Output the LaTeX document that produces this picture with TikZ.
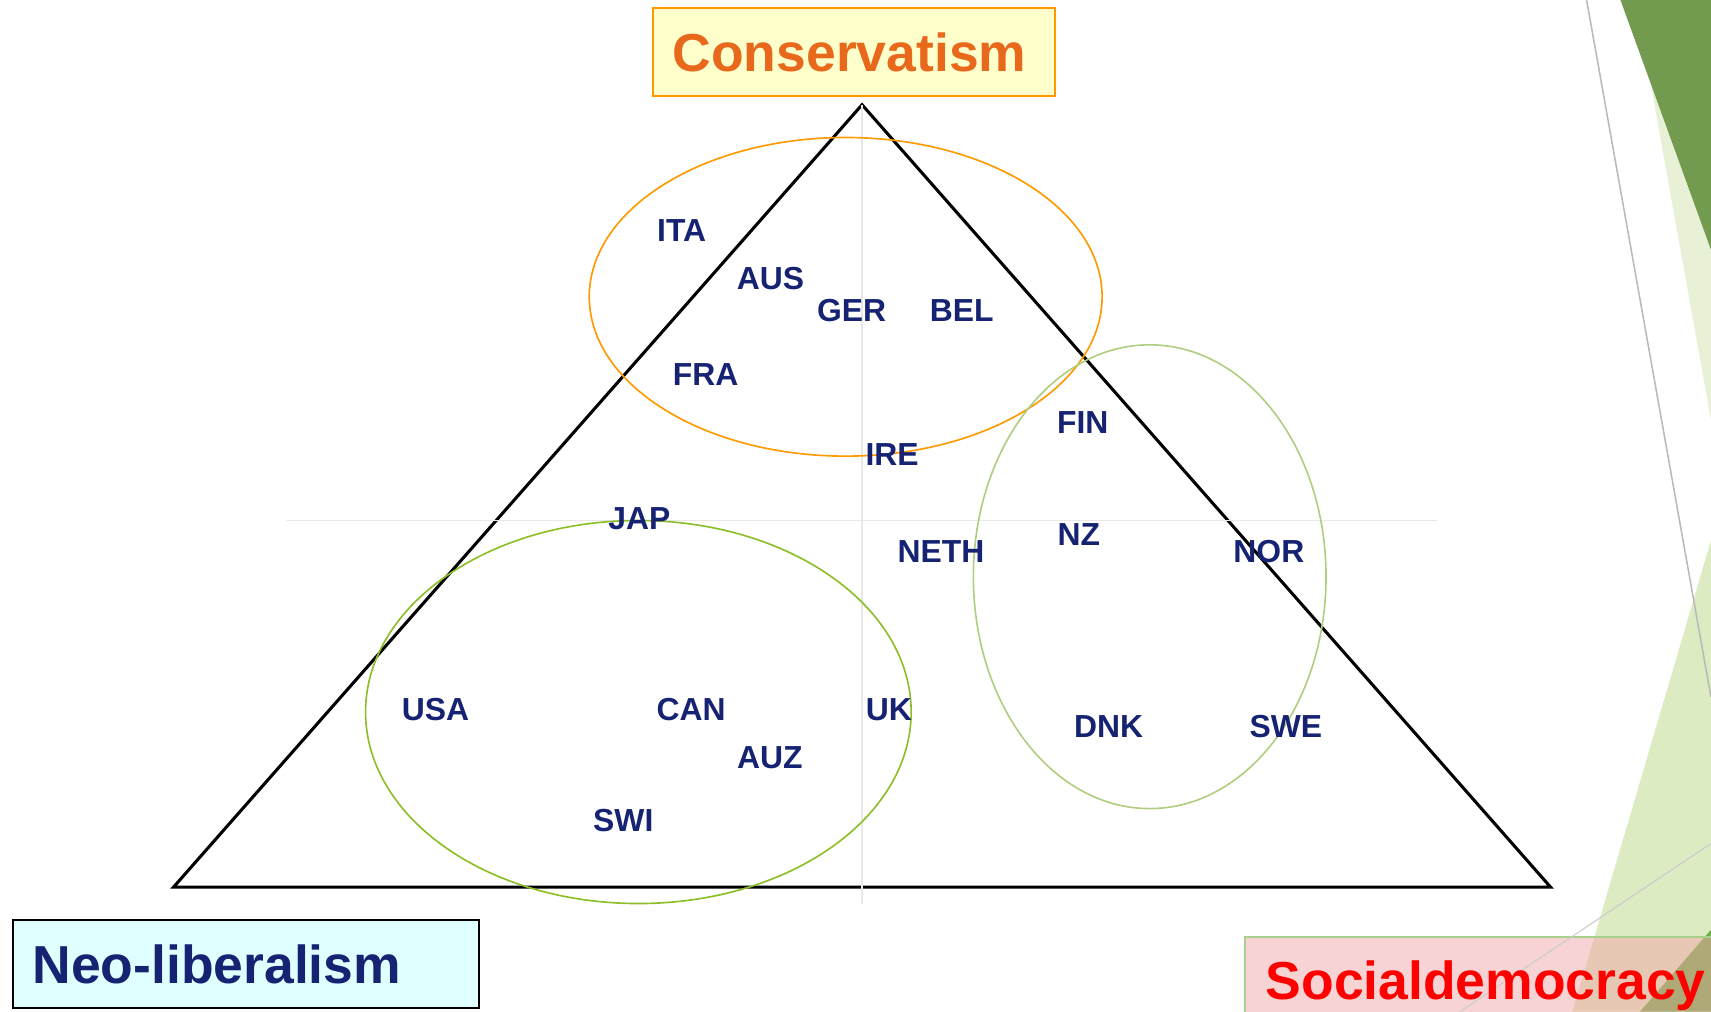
\documentclass[tikz,border=0pt]{standalone}
\usepackage{fontspec}
\setmainfont{Liberation Sans}

\definecolor{azulpais}{RGB}{22,34,114}
\definecolor{naranjacons}{RGB}{232,104,28}
\definecolor{naranjaborde}{RGB}{255,153,0}
\definecolor{amarillocaja}{RGB}{255,255,204}
\definecolor{celestecaja}{RGB}{224,255,255}
\definecolor{rosacaja}{RGB}{239,167,167}
\definecolor{verdeelipse}{RGB}{140,190,40}
\definecolor{verdeclaro}{RGB}{176,206,128}
\definecolor{verdeborde}{RGB}{169,209,142}
\definecolor{verdeoscuro}{RGB}{114,155,80}
\definecolor{verdepalido}{RGB}{232,240,214}
\definecolor{verdefondo}{RGB}{221,235,195}
\definecolor{verdevivo}{RGB}{112,173,71}

\begin{document}
\begin{tikzpicture}[x=0.5pt,y=-0.5pt]

    \tikzset{pais/.style={text=azulpais,font=\fontsize{14.6}{16}\selectfont\bfseries,inner sep=0pt}}
    \tikzset{titulo/.style={font=\fontsize{24.5}{28}\selectfont\bfseries,inner sep=0pt,text depth=0pt}}
    \tikzset{caja/.style={draw,shape=rectangle,inner sep=0pt}}

    \useasboundingbox (0,0) rectangle (1568,927);
    \clip (0,0) rectangle (1568,927);

    % Fondo.
    \fill[verdepalido] (1499,0) -- (1568,0) -- (1568,385) -- cycle;
    \fill[verdeoscuro] (1485,0) -- (1568,0) -- (1568,229) -- cycle;
    \fill[verdefondo] (1568,495) -- (1568,927) -- (1441,927) -- cycle;
    \fill[verdevivo] (1568,852) -- (1568,927) -- (1503,927) -- cycle;

    \coordinate (top) at ( 790, 96);
    \coordinate (izq) at ( 159, 813);
    \coordinate (der) at (1421, 813);

    \coordinate (ejen) at ( 790, 96);
    \coordinate (ejes) at ( 790, 828);
    \coordinate (ejeo) at ( 262, 477);
    \coordinate (ejee) at (1317, 477);

    \draw[line width=1.4pt] (top) -- (izq) -- (der) -- cycle;

    \begin{scope}[every path/.style={gray!18,line width=0.7pt}]
        \draw (ejen) -- (ejes);
        \draw (ejeo) -- (ejee);
    \end{scope}

    \begin{scope}[every path/.style={line width=0.75pt}]
        \draw[naranjaborde] (775,272) ellipse [x radius=235, y radius=146];
        \draw[verdeelipse] (585,652.5) ellipse [x radius=250, y radius=175.5];
        \draw[verdeclaro] (1053.6,528.5) ellipse [x radius=161.6, y radius=212.5];
    \end{scope}

    \node[caja,draw=naranjaborde,fill=amarillocaja,line width=0.8pt,minimum width=184pt,minimum height=40pt] (conscaja) at ( 782.75, 47.65) {};
    \node[caja,fill=celestecaja,line width=1pt,minimum width=213.4pt,minimum height=40.5pt] (neocaja) at ( 225.6, 883.5) {};
    \node[caja,draw=verdeborde,fill=rosacaja,fill opacity=0.5,line width=0.8pt,minimum width=240pt,minimum height=50pt] (socialcaja) at (1381, 908.4) {};

    \draw[gray!55,line width=0.7pt] (1454,0) -- (1568,639);
    \draw[gray!40,line width=0.5pt] (1338,927) -- (1568,773);

    \node[titulo,text=naranjacons] (cons) at ( 778.5, 48.1) {Conservatism};
    \node[titulo,text=azulpais,anchor=west] (neo) at ( 29.5, 883.5) {Neo-liberalism};
    \node[titulo,text=red,anchor=west] (social) at (1159.6, 898) {Socialdemocracy};

    \node[pais] (ita) at ( 624.7, 211.7) {ITA};
    \node[pais] (aus) at ( 706, 255.4) {AUS};
    \node[pais] (ger) at ( 780.5, 284.8) {GER};
    \node[pais] (bel) at ( 881.4, 284.8) {BEL};
    \node[pais] (fra) at ( 646.7, 343.4) {FRA};
    \node[pais] (ire) at ( 817.5, 416.5) {IRE};
    \node[pais] (fin) at ( 992.3, 387.5) {FIN};

    \node[pais] (jap) at ( 586, 475) {JAP};
    \node[pais] (neth) at ( 862.4, 505) {NETH};
    \node[pais] (nz) at ( 988.6, 490) {NZ};
    \node[pais] (nor) at (1162.8, 505) {NOR};

    \node[pais] (usa) at ( 399, 650) {USA};
    \node[pais] (can) at ( 633.3, 650) {CAN};
    \node[pais] (uk) at ( 814.6, 650) {UK};
    \node[pais] (auz) at ( 705.5, 694) {AUZ};
    \node[pais] (swi) at ( 571.2, 751.8) {SWI};
    \node[pais] (dnk) at (1016, 666) {DNK};
    \node[pais] (swe) at (1178.4, 666) {SWE};

\end{tikzpicture}
\end{document}
